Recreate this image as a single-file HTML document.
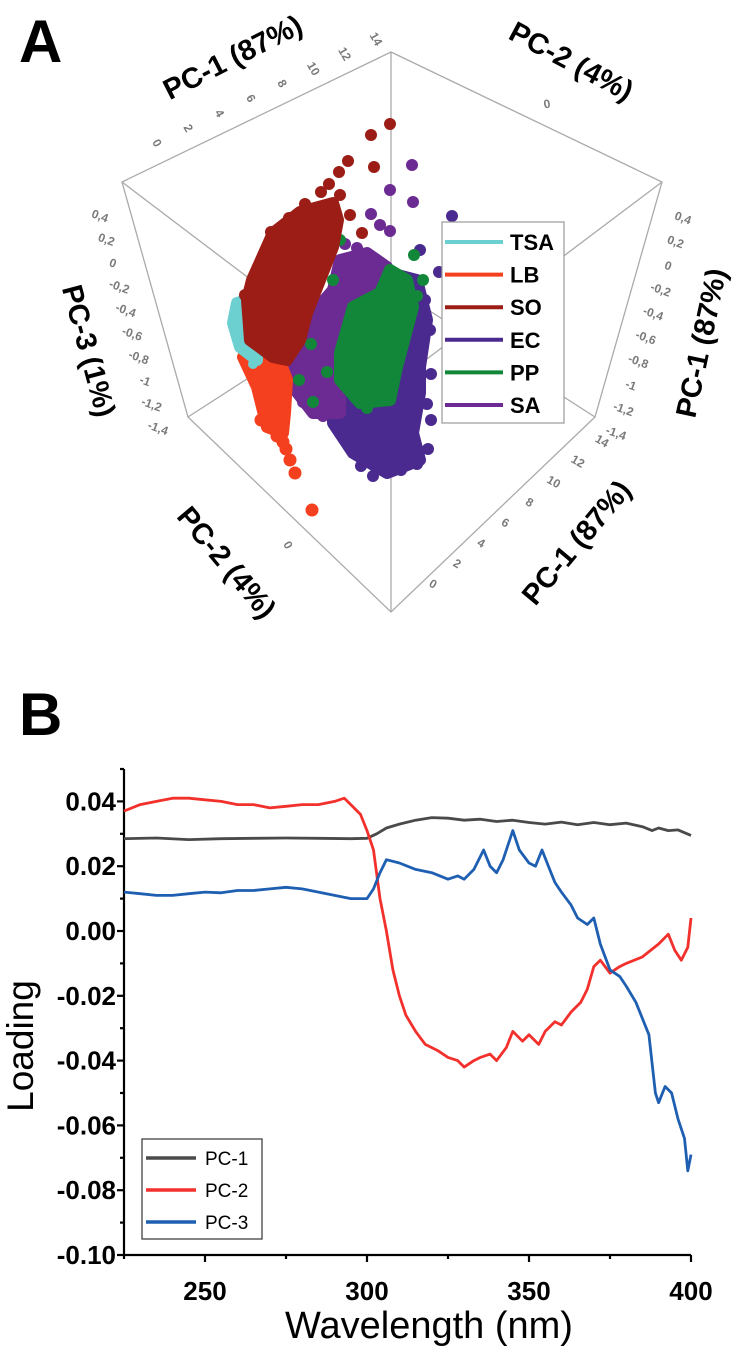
<!DOCTYPE html>
<html><head><meta charset="utf-8"><style>
html,body{margin:0;padding:0;background:#fff;}
svg{display:block;font-family:"Liberation Sans",Arial,sans-serif;}
</style></head><body>
<svg id="fig" width="747" height="1349" viewBox="0 0 747 1349">
<g id="panelA"></g>
<g id="panelB"></g>
</svg>
<script>
// ================= Panel A data (projected PCA scores) =================
const groupNames = ["TSA","LB","SO","EC","PP","SA"];
const groupColors = ["#6ccfd0","#f5401f","#9b1d15","#4a2a8f","#12873a","#6b2b93"];
// cluster outlines (dense regions)
const ecHull = [[-0.05,5.55],[1.3,5.2],[1.8,3.2],[1.45,0.85],[1.45,-0.45],[1.1,-2.45],[1.45,-3.8],[-0.2,-4.45],[-1.9,-3.45],[-2.9,-1.95],[-2.9,-0.8],[0.1,-0.15]];
const saHull = [[-5.2,1.55],[-4.2,3.2],[-2.9,4.7],[-2.55,6.2],[-1.2,6.55],[-0.2,5.85],[-0.4,3.85],[-1.9,2.2],[-2.55,-0.15],[-2.55,-1.45],[-3.9,-1.45],[-4.9,-0.15],[-5.3,0.85]];
const ppHull = [[-1.9,3.85],[-0.55,4.55],[-0.05,5.7],[0.8,5.2],[1.1,3.85],[0.3,0.85],[-0.05,-0.8],[-1.55,-0.95],[-2.55,0.2],[-2.55,1.55]];
const lbHull = [[-7.4,1.35],[-5.9,2.05],[-5.2,0.2],[-5.3,-1.45],[-5.4,-2.45],[-6.2,-2.15],[-6.7,-0.15]];
const tsaHull = [[-7.7,4.05],[-7.05,4.2],[-6.7,2.2],[-6.7,1.2],[-7.55,1.85],[-7.9,3.05]];
const soHull = [[-6.95,5.2],[-5.9,7.55],[-4.55,8.6],[-2.9,9.05],[-2.65,8.2],[-2.9,6.85],[-3.55,5.2],[-4.2,3.55],[-4.55,2.2],[-5.2,1.2],[-5.9,1.35],[-7.05,2.2],[-7.2,4.2]];
// individual points
const ecPts = [[1.85,-3.25],[3.05,8.4],[1.45,6.7],[2.4,5.6],[2.0,-1.8],[1.3,-4.0],[-0.9,-4.6],[1.95,2.7],[1.7,4.2],[2.0,0.5],[1.8,-1.0],[-1.5,-4.1],[0.5,-4.3]];
const saPts = [[1.05,10.95],[-0.05,9.7],[1.1,9.1],[-1.0,8.5],[-0.05,7.65],[-0.55,7.95],[-2.3,7.0],[-1.7,6.8],[-3.4,-1.6],[-4.4,-0.9],[-5.0,1.5]];
const ppPts = [[1.15,6.45],[-2.55,7.2],[-5.55,1.2],[-4.6,0.2],[-3.9,-0.9],[1.6,5.2],[-4.0,2.0],[1.3,4.4],[-2.9,5.2],[-1.2,-1.2],[-3.2,0.6]];
const tsaPts = [[-7.4,4.3],[-7.8,2.6],[-6.9,1.0]];
const lbPts = [[-5.25,-3.25],[-5.05,-3.8],[-4.8,-4.45],[-3.95,-6.3],[-5.4,-2.9],[-5.7,-2.6],[-6.5,-1.8]];
const soPts = [[-0.05,13.0],[-1.0,12.45],[-2.15,11.15],[-0.85,10.85],[-3.1,10.0],[-1.45,7.55],[-2.55,9.45],[-2.05,8.45],[-7.3,4.45],[-2.6,10.6],[-3.5,9.6],[-4.3,9.0],[-5.1,8.3],[-6.0,7.6]];
// axis tick values
const pc1Ticks = [0,2,4,6,8,10,12,14];
const pc3Ticks = [0.4,0.2,0,-0.2,-0.4,-0.6,-0.8,-1,-1.2,-1.4];

// ================= Panel B data =================
const wl1 = [225,235,245,255,265,275,285,295,300,303,306,310,315,320,325,330,335,340,345,350,355,360,365,370,375,380,385,388,390,393,396,400];
const pc1 = [0.0285,0.0287,0.0282,0.0285,0.0286,0.0287,0.0286,0.0285,0.0286,0.0300,0.0318,0.0330,0.0342,0.0350,0.0348,0.0342,0.0345,0.0338,0.0342,0.0335,0.0330,0.0336,0.0328,0.0335,0.0328,0.0333,0.0322,0.0310,0.0318,0.0310,0.0312,0.0295];
const wl2 = [225,230,235,240,245,250,255,260,265,270,275,280,285,290,293,295,298,300,302,304,306,308,310,312,315,318,320,322,325,328,330,333,335,338,340,343,345,348,350,353,355,358,360,363,366,368,370,372,375,378,380,385,390,393,395,397,399,400];
const pc2 = [0.037,0.039,0.040,0.041,0.041,0.0405,0.040,0.039,0.039,0.038,0.0385,0.039,0.039,0.040,0.041,0.039,0.036,0.031,0.025,0.010,0.000,-0.012,-0.020,-0.026,-0.031,-0.035,-0.036,-0.037,-0.039,-0.040,-0.042,-0.040,-0.039,-0.038,-0.040,-0.036,-0.031,-0.034,-0.032,-0.035,-0.031,-0.028,-0.029,-0.025,-0.022,-0.018,-0.011,-0.009,-0.013,-0.011,-0.010,-0.008,-0.004,-0.001,-0.006,-0.009,-0.005,0.004];
const wl3 = [225,230,235,240,245,250,255,260,265,270,275,280,285,290,295,300,302,304,306,310,315,320,325,328,330,333,336,338,340,342,345,347,350,352,354,356,358,360,363,365,368,370,372,375,378,380,383,385,387,389,390,392,394,396,398,399,400];
const pc3 = [0.012,0.0115,0.011,0.011,0.0115,0.012,0.0118,0.0125,0.0125,0.013,0.0135,0.013,0.012,0.011,0.010,0.010,0.013,0.018,0.022,0.021,0.019,0.018,0.016,0.017,0.016,0.019,0.025,0.020,0.018,0.022,0.031,0.025,0.021,0.020,0.025,0.020,0.015,0.012,0.008,0.004,0.002,0.004,-0.004,-0.012,-0.014,-0.017,-0.022,-0.027,-0.032,-0.050,-0.053,-0.048,-0.050,-0.058,-0.064,-0.074,-0.069];
const xTicks = [250,300,350,400];
const yTicks = [0.04,0.02,0.00,-0.02,-0.04,-0.06,-0.08,-0.10];
const yTickLabels = ["0.04","0.02","0.00","-0.02","-0.04","-0.06","-0.08","-0.10"];
const seriesNames = ["PC-1","PC-2","PC-3"];
const seriesColors = ["#4a4a4a","#f2302c","#1f5fb2"];

const NS="http://www.w3.org/2000/svg";
function mk(tag, attrs, parent){const e=document.createElementNS(NS,tag);for(const k in attrs)e.setAttribute(k,attrs[k]);parent.appendChild(e);return e;}

// ---------- Panel A ----------
const A=document.getElementById('panelA');
const sxA=u=>391+u*20, syA=v=>384-v*20;
let t=mk('text',{x:19,y:62,'font-size':60,'font-weight':'bold',fill:'#000'},A);t.textContent='A';


const box=mk('g',{stroke:'#aaa','stroke-width':1.3,fill:'none'},A);


mk('polygon',{points:'391,52 662,182 595,417 391,612 188,417 122,182'},box);
mk('line',{x1:391,y1:52,x2:391,y2:612},box);
mk('line',{x1:122,y1:182,x2:391,y2:386},box);
mk('line',{x1:662,y1:182,x2:391,y2:386},box);
mk('line',{x1:188,y1:417,x2:391,y2:286},box);
mk('line',{x1:595,y1:417,x2:391,y2:286},box);
const dots=mk('g',{},A);


function drawHull(arr,color,name){
  const pts=arr.map(p=>sxA(p[0]).toFixed(1)+','+syA(p[1]).toFixed(1)).join(' ');
  const h=mk('polygon',{points:pts,fill:color,stroke:color,'stroke-width':12,'stroke-linejoin':'round'},dots);
  
  
}
function drawSet(arr,color,r,name){
  for(const p of arr){
    const c=mk('circle',{cx:sxA(p[0]),cy:syA(p[1]),r:r,fill:color},dots);
    
    
  }
}
drawHull(ecHull,groupColors[3],'ec-cluster');drawSet(ecPts,groupColors[3],6,'ec-point');
drawHull(saHull,groupColors[5],'sa-cluster');drawSet(saPts,groupColors[5],6,'sa-point');
drawHull(ppHull,groupColors[4],'pp-cluster');drawSet(ppPts,groupColors[4],6,'pp-point');
drawHull(lbHull,groupColors[1],'lb-cluster');drawSet(lbPts,groupColors[1],6.5,'lb-point');
drawHull(tsaHull,groupColors[0],'tsa-cluster');drawSet(tsaPts,groupColors[0],5,'tsa-point');
drawHull(soHull,groupColors[2],'so-cluster');drawSet(soPts,groupColors[2],6,'so-point');
// tick labels
function tickRow(vals,fmt,x0,y0,x1,y1,rot,name){
  const n=vals.length-1;
  vals.forEach((v,i)=>{
    const x=x0+(x1-x0)*i/n, y=y0+(y1-y0)*i/n;
    const e=mk('text',{x:x,y:y,'font-size':12,'font-weight':'bold',fill:'#7a7a7a','text-anchor':'middle','dominant-baseline':'central',transform:`rotate(${rot} ${x} ${y})`},A);
    e.textContent=fmt(v);
    
    
  });
}
const c3=v=>String(v).replace('.',',');
tickRow(pc1Ticks,String,157,143,376,39,60,'pc1-tick-top');
tickRow(pc1Ticks,String,433,584,602,441,30,'pc1-tick-bottom');
tickRow(pc3Ticks,c3,100,216,158,428,20,'pc3-tick-left');
tickRow(pc3Ticks,c3,683,218,616,433,20,'pc3-tick-right');
[[547,104,-10],[288,545,60]].forEach(p=>{const e=mk('text',{x:p[0],y:p[1],'font-size':12,'font-weight':'bold',fill:'#7a7a7a','text-anchor':'middle','dominant-baseline':'central',transform:`rotate(${p[2]} ${p[0]} ${p[1]})`},A);e.textContent='0';

});
// axis titles
[["PC-1 (87%)",233,58,-27,'pc1-title-top'],["PC-2 (4%)",571,62,28,'pc2-title-top'],["PC-3 (1%)",88,351,75,'pc3-title'],
 ["PC-1 (87%)",702,343,-78,'pc1-title-right'],["PC-2 (4%)",226,563,50,'pc2-title-bottom'],["PC-1 (87%)",577,543,-50,'pc1-title-bottom']].forEach(a=>{
  const e=mk('text',{x:a[1],y:a[2],'font-size':29,'font-weight':'bold',fill:'#000','text-anchor':'middle','dominant-baseline':'central',transform:`rotate(${a[3]} ${a[1]} ${a[2]})`},A);
  e.textContent=a[0];
  
  
});
// legend A
const lgA=mk('g',{},A);


mk('rect',{x:442,y:222,width:122,height:201,fill:'#fff',stroke:'#999','stroke-width':1.2},lgA);
groupNames.forEach((g,i)=>{
  const y=242+i*32.6;
  const it=mk('g',{},lgA);
  
  
  mk('line',{x1:445,y1:y,x2:503,y2:y,stroke:groupColors[i],'stroke-width':4},it);
  const e=mk('text',{x:510,y:y+8,'font-size':22,'font-weight':'bold',fill:'#000'},it);e.textContent=g;
});

// ---------- Panel B ----------
const B=document.getElementById('panelB');
const X0=124,X1=691,Y0=1255,YT=769;
const sx=w=>X0+(w-225)*(X1-X0)/175;
const sy=v=>931-v*3240;
t=mk('text',{x:19,y:735,'font-size':60,'font-weight':'bold',fill:'#000'},B);t.textContent='B';


const ax=mk('g',{stroke:'#000','stroke-width':2.2,fill:'none'},B);


mk('line',{x1:X0,y1:YT,x2:X0,y2:Y0+1},ax);
mk('line',{x1:X0-1,y1:Y0,x2:X1,y2:Y0},ax);
for(let v=-0.10;v<=0.0501;v+=0.01){const y=sy(v);const major=Math.abs(Math.round(v*100))%2===0;mk('line',{x1:X0,y1:y,x2:X0-(major?7:4),y2:y},ax);}
for(let w=225;w<=400;w+=25){const x=sx(w);mk('line',{x1:x,y1:Y0,x2:x,y2:Y0+(w%50===0?7:4)},ax);}
yTicks.forEach((v,i)=>{const e=mk('text',{x:X0-8,y:sy(v)+9,'font-size':26,'font-weight':'bold','text-anchor':'end',fill:'#000'},B);e.textContent=yTickLabels[i];

});
xTicks.forEach(w=>{const e=mk('text',{x:sx(w),y:1300,'font-size':26,'font-weight':'bold','text-anchor':'middle',fill:'#000'},B);e.textContent=String(w);

});
t=mk('text',{x:0,y:0,'font-size':37,'text-anchor':'middle',fill:'#000',transform:'translate(33 1046) rotate(-90)'},B);t.textContent='Loading';


t=mk('text',{x:429,y:1338,'font-size':38,'text-anchor':'middle',fill:'#000'},B);t.textContent='Wavelength (nm)';


[[wl1,pc1],[wl2,pc2],[wl3,pc3]].forEach((s,i)=>{
  const d=s[0].map((w,j)=>(j?'L':'M')+sx(w).toFixed(1)+','+sy(s[1][j]).toFixed(1)).join(' ');
  const p=mk('path',{d:d,fill:'none',stroke:seriesColors[i],'stroke-width':2.8,'stroke-linejoin':'round'},B);
  
  
});
const lgB=mk('g',{},B);


mk('rect',{x:142,y:1139,width:120,height:100,fill:'#fff',stroke:'#333','stroke-width':1.2},lgB);
seriesNames.forEach((n,i)=>{
  const y=1158+i*32;
  const it=mk('g',{},lgB);
  
  
  mk('line',{x1:146,y1:y,x2:196,y2:y,stroke:seriesColors[i],'stroke-width':3.5},it);
  const e=mk('text',{x:205,y:y+7,'font-size':19,fill:'#000'},it);e.textContent=n;
});
</script>
</body></html>
